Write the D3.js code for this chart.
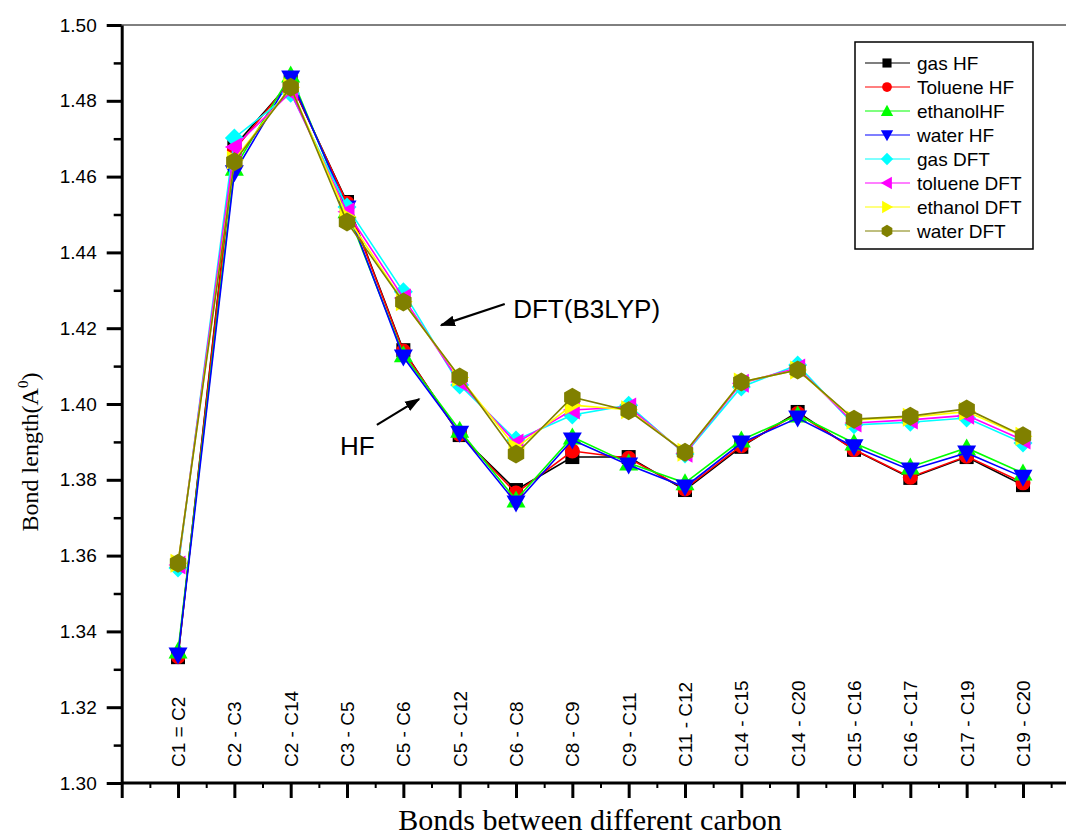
<!DOCTYPE html>
<html>
<head>
<meta charset="utf-8">
<script src="https://cdn.jsdelivr.net/npm/d3@7"></script>
<style>
  html, body { margin: 0; padding: 0; background: #fff; }
  svg { display: block; }
  text { font-family: "Liberation Sans", Arial, sans-serif; fill: #000; }
  .serif { font-family: "Liberation Serif", "Times New Roman", serif; }
</style>
</head>
<body>
<svg id="chart" width="1066" height="836"></svg>
<script>
// Carbon–carbon bonds along the chain
const bonds = ["C1 = C2", "C2 - C3", "C2 - C14", "C3 - C5", "C5 - C6", "C5 - C12",
  "C6 - C8", "C8 - C9", "C9 - C11", "C11 - C12", "C14 - C15", "C14 - C20",
  "C15 - C16", "C16 - C17", "C17 - C19", "C19 - C20"];

// Bond lengths (Å) per method / medium
const gasHF      = [1.3332, 1.4680, 1.4850, 1.4533, 1.4142, 1.3918, 1.3773, 1.3860, 1.3860, 1.3773, 1.3887, 1.3979, 1.3879, 1.3805, 1.3860, 1.3786];
const tolueneHF  = [1.3334, 1.4670, 1.4852, 1.4530, 1.4140, 1.3920, 1.3765, 1.3876, 1.3857, 1.3776, 1.3890, 1.3975, 1.3880, 1.3807, 1.3862, 1.3792];
const ethanolHF  = [1.3348, 1.4622, 1.4868, 1.4510, 1.4130, 1.3931, 1.3747, 1.3913, 1.3844, 1.3792, 1.3905, 1.3971, 1.3897, 1.3834, 1.3884, 1.3818];
const waterHF    = [1.3338, 1.4610, 1.4860, 1.4517, 1.4124, 1.3923, 1.3739, 1.3905, 1.3839, 1.3781, 1.3897, 1.3963, 1.3887, 1.3826, 1.3871, 1.3807];
const gasDFT     = [1.3567, 1.4702, 1.4820, 1.4520, 1.4296, 1.4050, 1.3905, 1.3971, 1.3997, 1.3868, 1.4045, 1.4103, 1.3945, 1.3952, 1.3963, 1.3897];
const tolueneDFT = [1.3575, 1.4678, 1.4823, 1.4507, 1.4280, 1.4058, 1.3897, 1.3984, 1.3992, 1.3870, 1.4055, 1.4095, 1.3950, 1.3958, 1.3970, 1.3905];
const ethanolDFT = [1.3580, 1.4644, 1.4836, 1.4494, 1.4270, 1.4070, 1.3884, 1.3997, 1.3985, 1.3873, 1.4058, 1.4090, 1.3958, 1.3965, 1.3980, 1.3915];
const waterDFT   = [1.3580, 1.4639, 1.4836, 1.4480, 1.4269, 1.4071, 1.3868, 1.4018, 1.3982, 1.3873, 1.4058, 1.4090, 1.3960, 1.3968, 1.3987, 1.3916];

const seriesNames = ["gas HF", "Toluene HF", "ethanolHF", "water HF", "gas DFT", "toluene DFT", "ethanol DFT", "water DFT"];
const seriesValues = [gasHF, tolueneHF, ethanolHF, waterHF, gasDFT, tolueneDFT, ethanolDFT, waterDFT];
const seriesColors = ["#000000", "#ff0000", "#00ff00", "#0000ff", "#00ffff", "#ff00ff", "#ffff00", "#808000"];
const seriesShapes = ["square", "circle", "up", "down", "diamond", "left", "right", "hexagon"];

const yTicks = [1.30, 1.32, 1.34, 1.36, 1.38, 1.40, 1.42, 1.44, 1.46, 1.48, 1.50];
const yMinorTicks = d3.range(1.31, 1.50, 0.02);

const svg = d3.select("#chart");

const x = d3.scaleLinear().domain([0, 17]).range([121.7, 121.7 + 17 * 56.33]);
const y = d3.scaleLinear().domain([1.30, 1.50]).range([783, 25]);

// Marker outlines, centred at the origin, scaled by k
function shapePath(shape, k) {
  const p = d3.path();
  const poly = pts => {
    p.moveTo(pts[0][0] * k, pts[0][1] * k);
    pts.slice(1).forEach(q => p.lineTo(q[0] * k, q[1] * k));
    p.closePath();
  };
  switch (shape) {
    case "square": poly([[-7, -7], [7, -7], [7, 7], [-7, 7]]); break;
    case "circle": p.moveTo(7.5 * k, 0); p.arc(0, 0, 7.5 * k, 0, 2 * Math.PI); break;
    case "up": poly([[0, -9.5], [9.5, 7.5], [-9.5, 7.5]]); break;
    case "down": poly([[-9.5, -7.5], [9.5, -7.5], [0, 9.5]]); break;
    case "diamond": poly([[0, -9.5], [9.5, 0], [0, 9.5], [-9.5, 0]]); break;
    case "left": poly([[-9.5, 0], [7.5, -9.5], [7.5, 9.5]]); break;
    case "right": poly([[9.5, 0], [-7.5, -9.5], [-7.5, 9.5]]); break;
    case "hexagon": {
      const pts = d3.range(6).map(i => {
        const a = (-90 + 60 * i) * Math.PI / 180;
        return [9.5 * Math.cos(a), 9.5 * Math.sin(a)];
      });
      poly(pts);
      break;
    }
  }
  return p.toString();
}

// Top frame line
svg.append("line")
  .attr("x1", x(0)).attr("x2", 1066)
  .attr("y1", y(1.50)).attr("y2", y(1.50))
  .attr("stroke", "#000").attr("stroke-width", 1);

// Series: line then symbols, drawn in legend order
const line = d3.line().x((d, i) => x(i + 1)).y(d => y(d));
const plot = svg.append("g");
seriesValues.forEach((vals, s) => {
  const g = plot.append("g");
  g.append("path")
    .attr("d", line(vals))
    .attr("fill", "none")
    .attr("stroke", seriesColors[s])
    .attr("stroke-width", 1.6);
  g.selectAll("path.mk")
    .data(vals)
    .join("path")
    .attr("class", "mk")
    .attr("transform", (d, i) => `translate(${x(i + 1)},${y(d)})`)
    .attr("d", shapePath(seriesShapes[s], 1))
    .attr("fill", seriesColors[s]);
});

// Y axis
const yAxis = svg.append("g").attr("transform", `translate(${x(0)},0)`)
  .call(d3.axisLeft(y).tickValues(yTicks).tickSize(15).tickSizeOuter(0).tickFormat(d3.format(".2f")));
svg.append("g").attr("transform", `translate(${x(0)},0)`)
  .call(d3.axisLeft(y).tickValues(yMinorTicks).tickSize(8).tickSizeOuter(0).tickFormat(""))
  .call(g => g.select(".domain").remove())
  .selectAll("line").attr("stroke-width", 2.5);
yAxis.select(".domain").attr("stroke-width", 3);
yAxis.selectAll(".tick line").attr("stroke-width", 3);
yAxis.selectAll(".tick text").attr("x", -25).attr("font-size", 19)
  .style("font-family", "'Liberation Sans', Arial, sans-serif");

// X axis
const xMajor = d3.range(0, 17);
const xMinor = d3.range(0.5, 17, 1);
const xAxis = svg.append("g").attr("transform", `translate(0,${y(1.30)})`)
  .call(d3.axisBottom(x).tickValues(xMajor).tickSize(15).tickSizeOuter(0).tickFormat(""));
xAxis.select(".domain").attr("d", `M${x(0)},0H1066`).attr("stroke-width", 3);
xAxis.selectAll(".tick line").attr("stroke-width", 3);
svg.append("g").attr("transform", `translate(0,${y(1.30)})`)
  .call(d3.axisBottom(x).tickValues(xMinor).tickSize(5).tickSizeOuter(0).tickFormat(""))
  .call(g => g.select(".domain").remove())
  .selectAll("line").attr("stroke-width", 2);

// Bond labels, vertical, reading upward from just above the axis
svg.append("g").selectAll("text")
  .data(bonds)
  .join("text")
  .attr("transform", (d, i) => `translate(${x(i + 1) + 7},767) rotate(-90)`)
  .attr("text-anchor", "start")
  .attr("font-size", 19)
  .text(d => d);

// Axis titles
const yTitle = svg.append("text")
  .attr("class", "serif")
  .attr("transform", "translate(38,452) rotate(-90)")
  .attr("text-anchor", "middle")
  .attr("font-size", 24);
yTitle.append("tspan").text("Bond length(A");
yTitle.append("tspan").attr("font-size", 15).attr("dy", -10).text("0");
yTitle.append("tspan").attr("dy", 10).text(")");

svg.append("text")
  .attr("class", "serif")
  .attr("x", 590).attr("y", 830)
  .attr("text-anchor", "middle")
  .attr("font-size", 30)
  .text("Bonds between different carbon");

// Annotations
const defs = svg.append("defs");
defs.append("marker")
  .attr("id", "arrowhead")
  .attr("viewBox", "0 0 10 10")
  .attr("refX", 9).attr("refY", 5)
  .attr("markerWidth", 7).attr("markerHeight", 7)
  .attr("markerUnits", "strokeWidth")
  .attr("orient", "auto")
  .append("path").attr("d", "M0,1.5L10,5L0,8.5Z").attr("fill", "#000");

const notes = [
  { text: "DFT(B3LYP)", tx: 6.95, ty: 1.4227, from: [6.80, 1.4264], to: [5.67, 1.4208] },
  { text: "HF", tx: 3.875, ty: 1.3865, from: [4.53, 1.3945], to: [5.28, 1.4013] }
];
notes.forEach(n => {
  svg.append("line")
    .attr("x1", x(n.from[0])).attr("y1", y(n.from[1]))
    .attr("x2", x(n.to[0])).attr("y2", y(n.to[1]))
    .attr("stroke", "#000").attr("stroke-width", 2.2)
    .attr("marker-end", "url(#arrowhead)");
  svg.append("text")
    .attr("x", x(n.tx)).attr("y", y(n.ty))
    .attr("font-size", 26)
    .text(n.text);
});

// Legend
const legend = svg.append("g").attr("transform", "translate(855,42)");
legend.append("rect")
  .attr("width", 178).attr("height", 207)
  .attr("fill", "#fff").attr("stroke", "#000").attr("stroke-width", 1.5);
seriesNames.forEach((name, s) => {
  const row = legend.append("g").attr("transform", `translate(0,${21 + 24 * s})`);
  row.append("line").attr("x1", 10).attr("x2", 55).attr("y1", 0).attr("y2", 0)
    .attr("stroke", seriesColors[s]).attr("stroke-width", 1.2);
  row.append("path").attr("transform", "translate(32,0)")
    .attr("d", shapePath(seriesShapes[s], 0.65)).attr("fill", seriesColors[s]);
  row.append("text").attr("x", 62).attr("y", 0).attr("dy", "0.35em")
    .attr("font-size", 19).text(name);
});
</script>
</body>
</html>
